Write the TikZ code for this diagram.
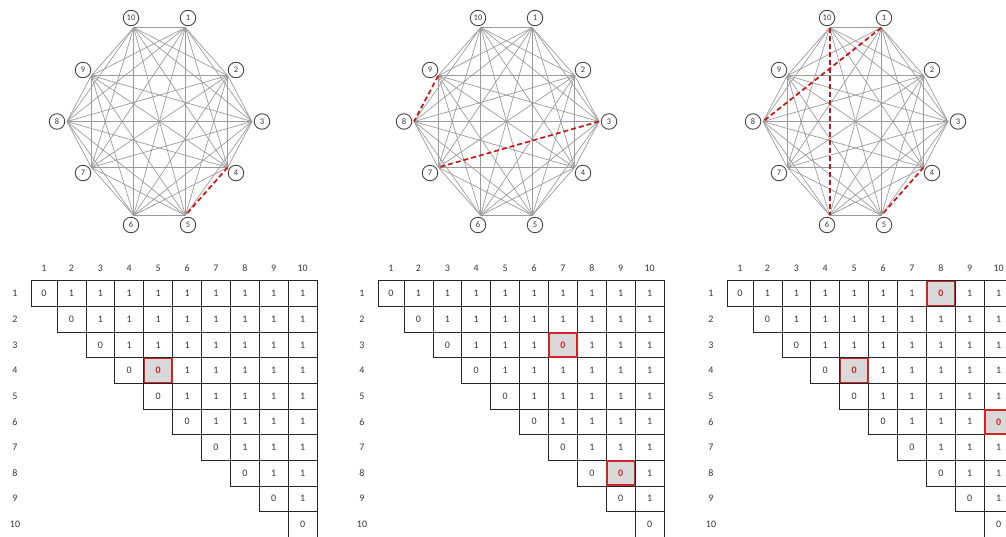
\documentclass[tikz,border=0pt]{standalone}
\usepackage{fontspec}
\setmainfont{Carlito}
\usetikzlibrary{calc}
\definecolor{edgegray}{RGB}{155,155,155}
\definecolor{dred}{RGB}{200,20,20}
\definecolor{hlred}{RGB}{210,35,40}
\definecolor{hlfill}{RGB}{217,217,217}
\definecolor{txt}{RGB}{55,55,55}
\newcommand\markcut[3]{\expandafter\def\csname rm#1-#2-#3\endcsname{}}
\newcommand\drawgraph[2]{%
  \begin{scope}[shift={(#2,121.5)}]
    \coordinate (#1c) at (0,0);
    \foreach \k/\dx/\dy in {1/28.5/-103.5,2/76.5/-51.5,3/102.5/0,4/76.5/51.5,5/28.5/103.5,6/-28.5/103.5,7/-76.5/51.5,8/-102.5/0,9/-76.5/-51.5,10/-28.5/-103.5}{
      \node[vtx] (#1n\k) at (\dx,\dy) {\k};
      \coordinate (#1a\k) at ($(#1n\k.center)!10pt!(#1c)$);
    }
  \end{scope}
  \foreach \i in {1,...,10}{
    \foreach \j in {\i,...,10}{
      \ifnum\j>\i
        \ifcsname rm#1-\i-\j\endcsname\else
          \draw[edge] (#1a\i) -- (#1a\j);
        \fi
      \fi
    }
  }
}
\newcommand\drawtable[2]{%
  \begin{scope}[shift={(#2,0)}]
    \foreach \j in {1,...,10}{
      \pgfmathsetmacro\cx{\j==1 ? 44 : 57+28.9*(\j-1.5)}
      \node[lab] (#1h\j) at (\cx,268) {\j};
      \node[lab] (#1r\j) at (15,{280.7+25.65*(\j-0.5)}) {\j};
    }
    \foreach \i in {1,...,10}{
      \foreach \j in {\i,...,10}{
        \pgfmathsetmacro\cx{\j==1 ? 44 : 57+28.9*(\j-1.5)}
        \pgfmathsetmacro\cw{\j==1 ? 26 : 28.9}
        \pgfmathtruncatemacro\v{\j==\i ? 0 : 1}
        \node[cell,minimum width=\cw pt] (#1c\i-\j) at (\cx,{280.7+25.65*(\i-0.5)}) {\v};
      }
    }
  \end{scope}
}
\newcommand\hlcell[3]{%
  \node[cell,hl,minimum width=27.4pt,minimum height=24.2pt] (#1x#2-#3) at (#1c#2-#3.center) {0};
}
\begin{document}
\begin{tikzpicture}[x=1pt,y=-1pt,
  vtx/.style={circle,draw=black!72,line width=0.9pt,fill=white,minimum size=15.5pt,inner sep=0pt,font=\fontsize{8.5}{8.5}\selectfont,text=txt},
  edge/.style={draw=edgegray,line width=0.7pt},
  cut/.style={draw=dred,line width=1.7pt,dash pattern=on 5pt off 3pt},
  cell/.style={draw=black!85,line width=0.8pt,minimum height=25.65pt,inner sep=0pt,font=\fontsize{10}{10}\selectfont,text=txt},
  hl/.style={draw=hlred,line width=1.7pt,fill=hlfill,text=hlred,font=\fontsize{10}{10}\selectfont\bfseries},
  lab/.style={font=\fontsize{10}{10}\selectfont,text=txt,inner sep=0pt}
]
\useasboundingbox (0,0) rectangle (1006,537);
\markcut{A}{4}{5}
\markcut{B}{8}{9}
\markcut{B}{3}{7}
\markcut{C}{1}{8}
\markcut{C}{6}{10}
\markcut{C}{4}{5}
\drawgraph{A}{159.5}
\drawgraph{B}{506.5}
\drawgraph{C}{855.5}
\draw[cut] (Aa4) -- (Aa5);
\draw[cut] (Ba9) -- (Ba8);
\draw[cut] (Ba3) -- (Ba7);
\draw[cut] (Ca1) -- (Ca8);
\draw[cut,xshift=0.5pt] (Ca10) -- (Ca6);
\draw[cut] (Ca4) -- (Ca5);
\drawtable{TA}{0}
\drawtable{TB}{347}
\drawtable{TC}{696}
\hlcell{TA}{4}{5}
\hlcell{TB}{3}{7}
\hlcell{TB}{8}{9}
\hlcell{TC}{1}{8}
\hlcell{TC}{4}{5}
\hlcell{TC}{6}{10}
\end{tikzpicture}
\end{document}
